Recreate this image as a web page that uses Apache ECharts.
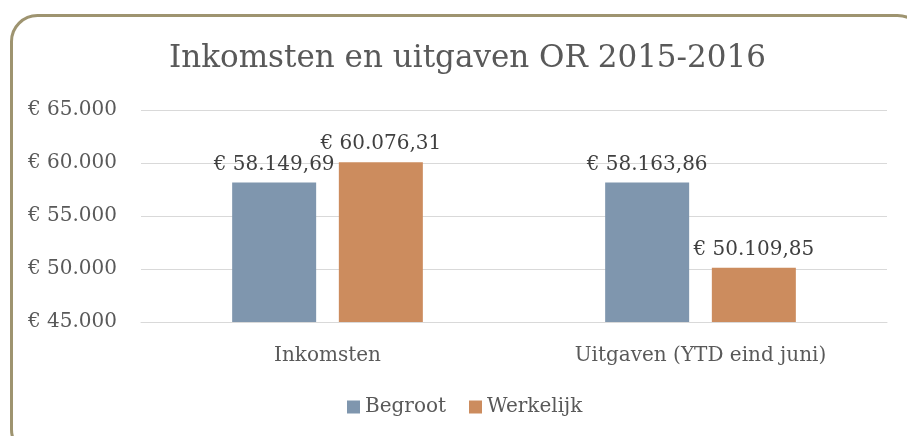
<!DOCTYPE html>
<html><head><meta charset="utf-8">
<script src="https://cdn.jsdelivr.net/npm/echarts@6/dist/echarts.min.js"></script>
<style>html,body{margin:0;padding:0;background:#fff}#c{width:907px;height:436px}</style>
</head><body><div id="c"></div>
<script>
const categories = ['Inkomsten', 'Uitgaven (YTD eind juni)'];
const begroot = [58149.69, 58163.86];
const werkelijk = [60076.31, 50109.85];
const seriesNames = ['Begroot', 'Werkelijk'];
const yMin = 45000, yMax = 65000, yStep = 5000;

const FONT = 'DejaVu Serif';
function nl(v, dec) {
  const parts = v.toFixed(dec).split('.');
  const intPart = parts[0].replace(/\B(?=(\d{3})+(?!\d))/g, '.');
  return dec ? intPart + ',' + parts[1] : intPart;
}
const chart = echarts.init(document.getElementById('c'));
chart.setOption({
  animation: false,
  textStyle: { fontFamily: FONT },
  graphic: [{
    type: 'rect', left: 9, top: 13,
    shape: { width: 912, height: 440, r: 26 },
    style: { fill: 'none', stroke: '#9e9470', lineWidth: 3 }
  }],
  title: {
    text: 'Inkomsten en uitgaven OR 2015-2016', left: 164, top: 38,
    textStyle: { fontFamily: FONT, fontSize: 31, fontWeight: 'normal', color: '#595959' }
  },
  legend: {
    data: seriesNames, bottom: 14, left: 342, itemWidth: 13, itemHeight: 13, itemGap: 23,
    icon: 'rect',
    textStyle: { fontFamily: FONT, fontSize: 20, color: '#595959' }
  },
  grid: { left: 141, right: 20, top: 110, bottom: 114 },
  xAxis: {
    type: 'category', data: categories,
    axisLine: { show: true, lineStyle: { color: '#d9d9d9' } },
    axisTick: { show: false },
    axisLabel: { fontFamily: FONT, fontSize: 20, color: '#595959', margin: 24 }
  },
  yAxis: {
    type: 'value', min: yMin, max: yMax, interval: yStep,
    axisLine: { show: false }, axisTick: { show: false },
    splitLine: { lineStyle: { color: '#d9d9d9' } },
    axisLabel: { fontFamily: FONT, fontSize: 20, color: '#595959', margin: 24,
      formatter: v => '€ ' + nl(v, 0) }
  },
  series: [
    { name: seriesNames[0], type: 'bar', data: begroot, barWidth: 84, barGap: '27%',
      itemStyle: { color: '#7f96ae' },
      label: { show: true, position: 'top', distance: 8, fontFamily: FONT, fontSize: 20, color: '#404040',
        formatter: p => '€ ' + nl(p.value, 2) } },
    { name: seriesNames[1], type: 'bar', data: werkelijk, barWidth: 84,
      itemStyle: { color: '#cc8c5e' },
      label: { show: true, position: 'top', distance: 8, fontFamily: FONT, fontSize: 20, color: '#404040',
        formatter: p => '€ ' + nl(p.value, 2) } }
  ]
});
</script></body></html>
